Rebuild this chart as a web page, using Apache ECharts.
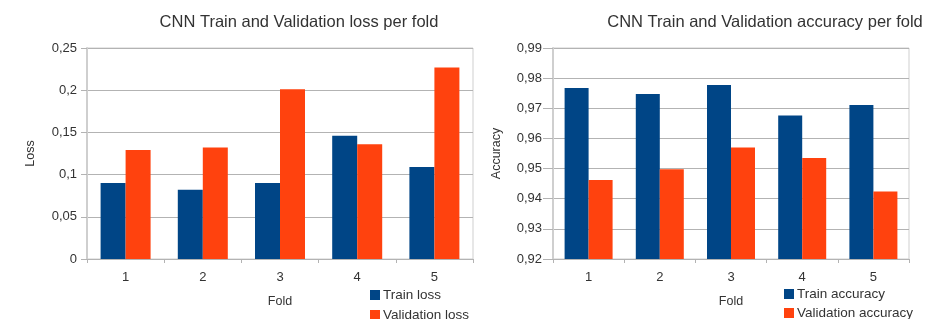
<!DOCTYPE html>
<html>
<head>
<meta charset="utf-8">
<script src="https://cdn.jsdelivr.net/npm/echarts@6/dist/echarts.min.js"></script>
<style>
  html, body { margin: 0; padding: 0; background: #fff; }
  #chart { width: 944px; height: 319px; }
</style>
</head>
<body>
<div id="chart"></div>
<script>
var folds = ['1', '2', '3', '4', '5'];
var trainLoss = [0.090, 0.082, 0.090, 0.146, 0.109];
var valLoss = [0.129, 0.132, 0.201, 0.136, 0.227];
var trainAcc = [0.9767, 0.9747, 0.9777, 0.9676, 0.9711];
var valAcc = [0.9462, 0.9498, 0.9570, 0.9535, 0.9424];

var font = 'Liberation Sans';
var gridColor = '#b3b3b3';
var frameColor = '#cfcfcf';

function commaFmt(v) {
  return String(parseFloat(v.toFixed(2))).replace('.', ',');
}

var myChart = echarts.init(document.getElementById('chart'));
var option;

function xAx(idx) {
  return {
    type: 'category',
    gridIndex: idx,
    data: folds,
    name: 'Fold',
    nameLocation: 'middle',
    nameGap: 36,
    nameTextStyle: { fontFamily: font, fontSize: 12.5, color: '#333' },
    axisLine: { lineStyle: { color: gridColor, width: 1 } },
    axisTick: { show: true, length: 4, lineStyle: { color: gridColor } },
    axisLabel: { margin: 12, fontFamily: font, fontSize: 13, color: '#333' },
    splitLine: { show: false }
  };
}

// one legend per entry, stacked by hand
function leg(name, x, y) {
  return {
    data: [name], left: x, top: y,
    icon: 'rect', itemWidth: 10, itemHeight: 10,
    textStyle: { fontFamily: font, fontSize: 13.5, color: '#333', padding: [0, 0, 0, -2] }
  };
}

option = {
  animation: false,
  color: ['#004586', '#ff420e'],
  title: [
    {
      text: 'CNN Train and Validation loss per fold',
      left: 294, top: 9, textAlign: 'center',
      textStyle: { fontFamily: font, fontSize: 16.5, fontWeight: 'normal', color: '#333' }
    },
    {
      text: 'CNN Train and Validation accuracy per fold',
      left: 760, top: 9, textAlign: 'center',
      textStyle: { fontFamily: font, fontSize: 16.5, fontWeight: 'normal', color: '#333' }
    }
  ],
  legend: [
    leg('Train loss', 365, 283),
    leg('Validation loss', 365, 303),
    leg('Train accuracy', 779, 282),
    leg('Validation accuracy', 779, 301)
  ],
  grid: [
    { left: 87, top: 48, width: 386, height: 211, show: true, borderColor: frameColor, borderWidth: 1 },
    { left: 553, top: 48, width: 356, height: 211, show: true, borderColor: frameColor, borderWidth: 1 }
  ],
  xAxis: [xAx(0), xAx(1)],
  yAxis: [
    {
      type: 'value', gridIndex: 0,
      min: 0, max: 0.25, interval: 0.05,
      name: 'Loss', nameLocation: 'middle', nameRotate: 90, nameGap: 50,
      nameTextStyle: { fontFamily: font, fontSize: 12.5, color: '#333' },
      axisLine: { show: true, lineStyle: { color: frameColor, width: 2 } },
      axisTick: { show: true, length: 6, lineStyle: { color: gridColor } },
      axisLabel: { margin: 10, fontFamily: font, fontSize: 13, color: '#333', formatter: commaFmt },
      splitLine: { lineStyle: { color: gridColor, width: 1 } }
    },
    {
      type: 'value', gridIndex: 1,
      min: 0.92, max: 0.99, interval: 0.01,
      name: 'Accuracy', nameLocation: 'middle', nameRotate: 90, nameGap: 50,
      nameTextStyle: { fontFamily: font, fontSize: 12.5, color: '#333' },
      axisLine: { show: true, lineStyle: { color: frameColor, width: 2 } },
      axisTick: { show: true, length: 10, lineStyle: { color: gridColor } },
      axisLabel: { margin: 11, fontFamily: font, fontSize: 13, color: '#333',
        formatter: function (v) { return v.toFixed(2).replace('.', ','); } },
      splitLine: { lineStyle: { color: gridColor, width: 1 } }
    }
  ],
  series: [
    { name: 'Train loss', type: 'bar', xAxisIndex: 0, yAxisIndex: 0, barWidth: 25, barGap: '0%',
      itemStyle: { color: '#004586' }, data: trainLoss },
    { name: 'Validation loss', type: 'bar', xAxisIndex: 0, yAxisIndex: 0, barWidth: 25, barGap: '0%',
      itemStyle: { color: '#ff420e' }, data: valLoss },
    { name: 'Train accuracy', type: 'bar', xAxisIndex: 1, yAxisIndex: 1, barWidth: 24, barGap: '0%',
      itemStyle: { color: '#004586' }, data: trainAcc },
    { name: 'Validation accuracy', type: 'bar', xAxisIndex: 1, yAxisIndex: 1, barWidth: 24, barGap: '0%',
      itemStyle: { color: '#ff420e' }, data: valAcc }
  ]
};
option && myChart.setOption(option);
</script>
</body>
</html>
